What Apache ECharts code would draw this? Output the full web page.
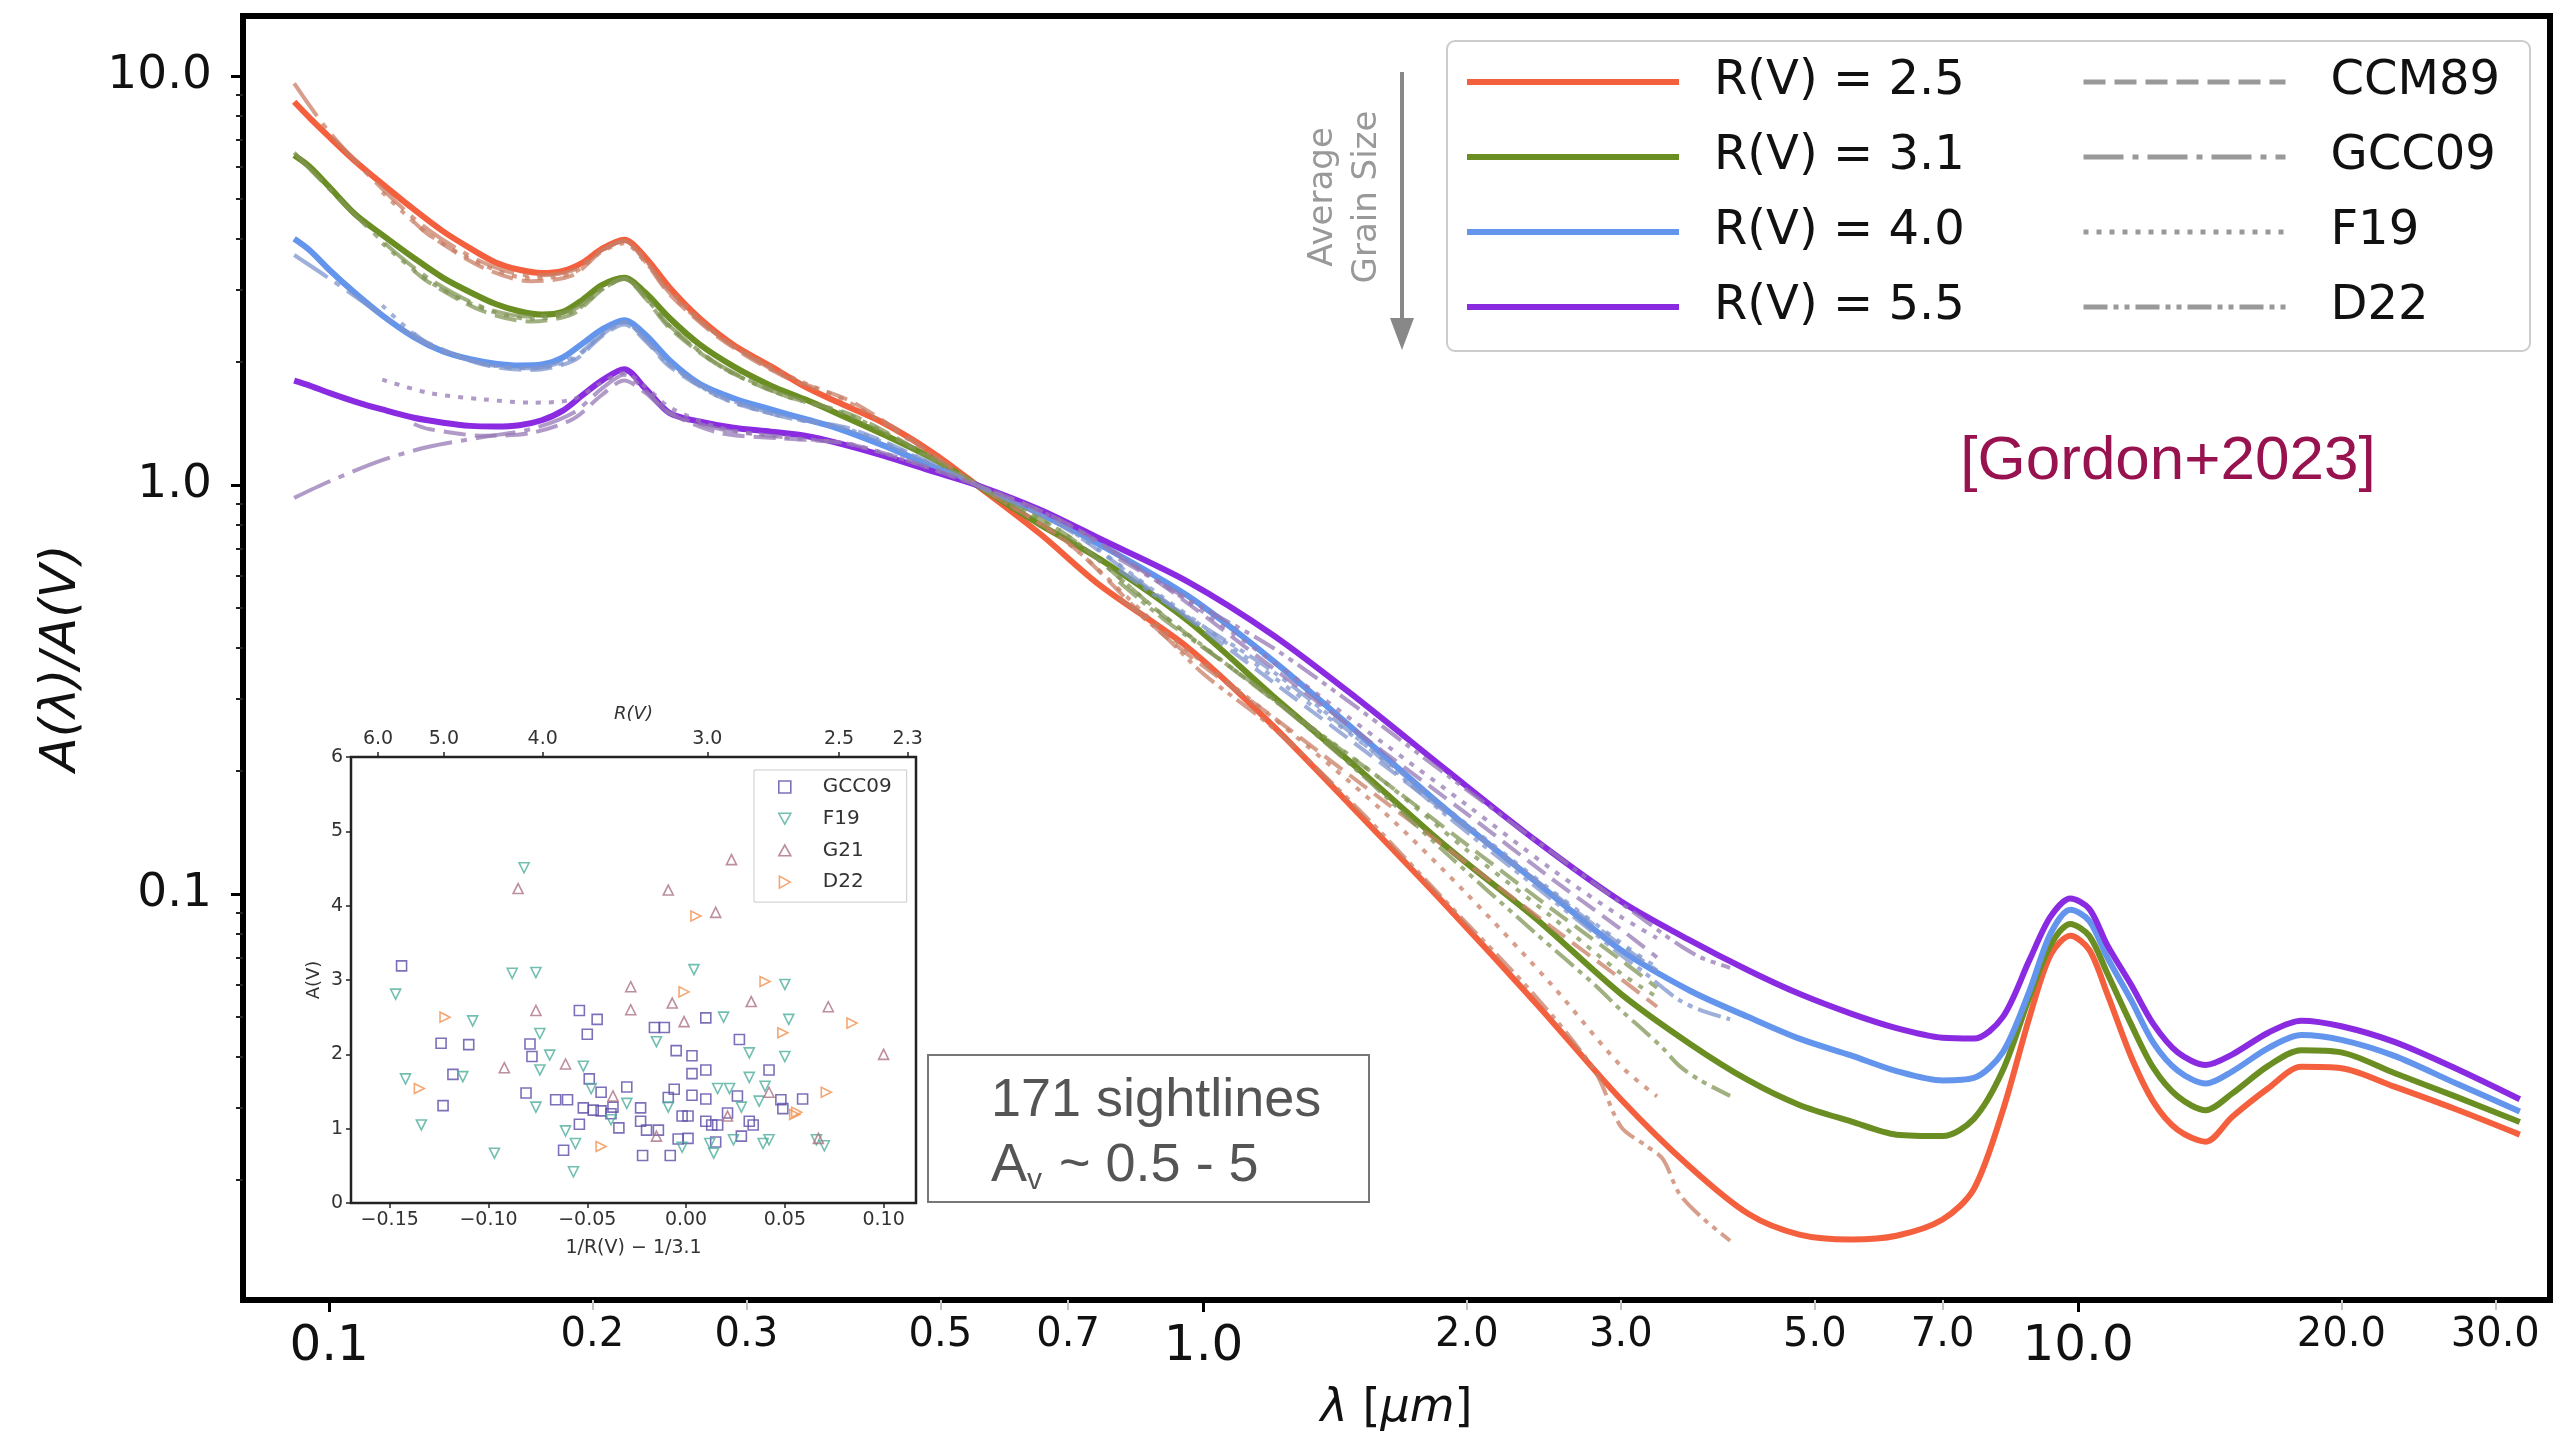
<!DOCTYPE html>
<html><head><meta charset="utf-8">
<script src="https://cdn.jsdelivr.net/npm/echarts@6/dist/echarts.min.js"></script>
<style>html,body{margin:0;padding:0;background:#fff}#c{width:2561px;height:1441px}</style>
</head><body><div id="c"></div>
<script>
// ---------------- data: G23 curves ----------------
const wavelength = [0.0912,0.095,0.1,0.107,0.115,0.125,0.135,0.145,0.155,0.165,0.175,0.185,0.195,0.205,0.2175,0.23,0.245,0.265,0.29,0.32,0.35,0.38,0.43,0.49,0.55,0.65,0.76,0.96,1.2,1.5,1.9,2.4,3.0,3.6,4.2,4.8,5.5,6.2,7.0,7.6,8.2,8.8,9.3,9.8,10.3,10.8,11.5,12.2,13.0,14.0,15.0,16.5,18.0,20.0,23.0,27.0,32.0];
const rv25 = [8.65,7.9,7.1,6.2,5.45,4.72,4.17,3.79,3.50,3.36,3.30,3.34,3.50,3.78,3.98,3.60,3.04,2.56,2.20,1.95,1.74,1.60,1.42,1.20,1.00,0.76,0.57,0.40,0.258,0.158,0.093,0.054,0.0315,0.0215,0.0165,0.0147,0.0143,0.0146,0.0160,0.0190,0.0295,0.050,0.071,0.079,0.073,0.057,0.040,0.031,0.0265,0.0248,0.0285,0.0335,0.0378,0.0375,0.0338,0.0298,0.0258];
const rv31 = [6.4,6.0,5.36,4.6,4.09,3.59,3.21,2.96,2.77,2.66,2.61,2.65,2.84,3.08,3.21,2.95,2.56,2.21,1.95,1.75,1.62,1.50,1.33,1.16,1.00,0.80,0.66,0.465,0.305,0.203,0.13,0.087,0.057,0.043,0.035,0.0305,0.0278,0.0258,0.0256,0.0282,0.037,0.056,0.075,0.0845,0.079,0.064,0.048,0.0375,0.032,0.0296,0.0325,0.038,0.0415,0.041,0.0365,0.032,0.0277];
const rv40 = [4.0,3.75,3.36,2.95,2.60,2.30,2.12,2.03,1.98,1.96,1.97,2.05,2.22,2.40,2.53,2.33,2.02,1.77,1.63,1.53,1.45,1.38,1.25,1.11,1.00,0.85,0.716,0.535,0.372,0.248,0.16,0.107,0.073,0.058,0.05,0.0443,0.0403,0.0369,0.0350,0.0355,0.041,0.058,0.080,0.0915,0.086,0.070,0.055,0.0432,0.037,0.0344,0.0368,0.042,0.0452,0.044,0.0402,0.0345,0.0294];
const rv55 = [1.80,1.75,1.68,1.60,1.53,1.46,1.42,1.395,1.39,1.40,1.44,1.52,1.66,1.80,1.92,1.72,1.50,1.43,1.38,1.35,1.32,1.27,1.18,1.08,1.00,0.87,0.74,0.58,0.43,0.30,0.20,0.135,0.096,0.077,0.065,0.057,0.051,0.047,0.0445,0.0443,0.050,0.069,0.088,0.0975,0.092,0.075,0.060,0.048,0.041,0.0382,0.0405,0.0458,0.049,0.0475,0.0435,0.0375,0.0315];

// ---------------- data: literature models ----------------
const ccmWave = [0.125,0.13,0.15,0.17,0.19,0.205,0.2175,0.23,0.245,0.28,0.33,0.4,0.55,0.7,0.9,1.2,1.6,2.0,2.5,3.0,3.3];
const ccm25 = [4.40,4.09,3.40,3.15,3.26,3.73,3.95,3.51,2.93,2.28,1.85,1.58,1.0,0.722,0.430,0.271,0.170,0.119,0.083,0.062,0.053];
const ccm31 = [3.34,3.13,2.66,2.51,2.62,3.00,3.19,2.86,2.42,1.95,1.66,1.47,1.0,0.750,0.479,0.299,0.190,0.132,0.092,0.069,0.059];
const ccm40 = [2.35,2.22,1.97,1.91,2.01,2.31,2.47,2.25,1.95,1.64,1.47,1.36,1.0,0.777,0.524,0.330,0.208,0.145,0.101,0.075,0.065];
const ccm55 = [1.41,1.37,1.32,1.34,1.45,1.66,1.80,1.68,1.50,1.34,1.30,1.25,1.0,0.802,0.567,0.357,0.224,0.157,0.109,0.082,0.070];

const gccWave = [0.0912,0.1,0.115,0.13,0.15,0.17,0.19,0.205,0.2175,0.23,0.245,0.28,0.33];
const gcc25 = [9.6,7.3,5.3,4.2,3.5,3.25,3.35,3.75,3.95,3.55,2.95,2.3,1.85];
const gcc31 = [6.5,5.3,3.95,3.2,2.72,2.58,2.68,3.02,3.2,2.88,2.45,1.96,1.66];
const gcc40 = [3.65,3.2,2.6,2.2,1.98,1.93,2.05,2.33,2.5,2.27,1.97,1.65,1.47];
const gcc55 = [0.93,1.02,1.15,1.24,1.31,1.37,1.50,1.72,1.86,1.70,1.50,1.37,1.31];

const f19Wave = [0.115,0.13,0.15,0.17,0.19,0.205,0.2175,0.23,0.245,0.28,0.33,0.4,0.55,0.7,0.9,1.2,1.6,2.0,2.5,3.0,3.3];
const f1925 = [5.2,4.1,3.45,3.2,3.3,3.72,3.9,3.5,3.0,2.3,1.88,1.56,1.0,0.72,0.44,0.27,0.16,0.10,0.06,0.038,0.032];
const f1931 = [3.9,3.15,2.7,2.55,2.65,3.0,3.2,2.88,2.45,1.95,1.66,1.46,1.0,0.75,0.48,0.30,0.19,0.128,0.088,0.064,0.056];
const f1940 = [2.75,2.2,1.98,1.93,2.03,2.33,2.5,2.27,1.97,1.64,1.47,1.35,1.0,0.78,0.53,0.34,0.215,0.148,0.102,0.076,0.066];
const f1955 = [1.81,1.68,1.62,1.59,1.62,1.78,1.88,1.74,1.55,1.38,1.31,1.25,1.0,0.80,0.57,0.37,0.235,0.165,0.115,0.088,0.078];

const d22Wave = [0.8,0.9,1.0,1.2,1.5,1.9,2.4,2.8,3.0,3.2,3.35,3.5,3.7,4.0];
const d2225 = [0.53,0.43,0.345,0.255,0.162,0.095,0.056,0.037,0.027,0.0243,0.0225,0.0185,0.0163,0.0142];
const d2231 = [0.58,0.47,0.40,0.30,0.20,0.125,0.080,0.060,0.052,0.046,0.042,0.038,0.035,0.0321];
const d2240 = [0.62,0.52,0.45,0.35,0.24,0.155,0.104,0.080,0.071,0.064,0.059,0.055,0.052,0.0494];
const d2255 = [0.66,0.57,0.50,0.40,0.285,0.195,0.135,0.106,0.095,0.086,0.080,0.075,0.070,0.066];

// ---------------- data: inset scatter [1/R(V)-1/3.1, A(V)] ----------------
const insetGCC09 = [[-0.144,3.19],[-0.124,2.15],[-0.110,2.13],[-0.118,1.73],[-0.123,1.31],[-0.081,1.48],[-0.079,2.14],[-0.078,1.97],[-0.054,2.59],[-0.045,2.47],[-0.050,2.27],[-0.066,1.39],[-0.060,1.39],[-0.049,1.67],[-0.043,1.49],[-0.052,1.28],[-0.047,1.25],[-0.043,1.24],[-0.038,1.20],[-0.037,1.29],[-0.034,1.01],[-0.054,1.06],[-0.062,0.71],[-0.030,1.56],[-0.023,1.28],[-0.023,1.10],[-0.020,0.98],[-0.014,0.98],[-0.022,0.64],[-0.016,2.36],[-0.011,2.36],[-0.005,2.05],[0.003,1.98],[0.003,1.74],[0.010,1.79],[0.010,2.49],[-0.006,1.53],[-0.009,1.42],[-0.008,0.64],[-0.004,0.86],[-0.002,1.17],[0.001,1.17],[0.003,1.45],[0.010,1.40],[0.010,1.10],[0.013,1.05],[0.015,0.82],[0.016,1.05],[0.021,1.21],[0.026,1.44],[0.027,2.20],[0.028,0.90],[0.032,1.10],[0.034,1.05],[0.042,1.79],[0.048,1.39],[0.049,1.27],[0.059,1.40],[0.001,0.87]];
const insetF19 = [[-0.147,2.81],[-0.142,1.67],[-0.134,1.05],[-0.108,2.45],[-0.113,1.70],[-0.097,0.67],[-0.088,3.09],[-0.076,3.10],[-0.082,4.51],[-0.074,2.28],[-0.074,1.79],[-0.076,1.29],[-0.069,1.99],[-0.052,1.84],[-0.061,0.97],[-0.056,0.80],[-0.057,0.42],[-0.030,1.34],[-0.015,2.17],[0.004,3.14],[0.019,2.50],[0.032,2.02],[0.032,1.69],[0.039,0.80],[0.042,0.85],[0.050,2.94],[0.052,2.47],[0.050,1.97],[0.040,1.57],[0.066,0.85],[0.070,0.77],[0.016,1.54],[0.022,1.54],[0.012,0.80],[0.014,0.67],[-0.002,0.75],[0.024,0.85],[0.037,1.37],[0.028,1.29],[-0.009,1.29],[-0.038,1.12],[-0.048,1.54]];
const insetG21 = [[-0.085,4.23],[-0.076,2.59],[-0.092,1.82],[-0.061,1.87],[-0.028,2.91],[-0.028,2.60],[-0.009,4.21],[0.023,4.62],[-0.007,2.69],[-0.001,2.44],[0.033,2.71],[0.072,2.64],[0.100,2.00],[0.015,3.91],[0.021,1.17],[0.042,1.49],[0.067,0.87],[-0.037,1.44],[-0.015,0.90]];
const insetD22 = [[-0.122,2.50],[-0.135,1.54],[-0.043,0.76],[0.005,3.86],[-0.001,2.84],[0.040,2.98],[0.049,2.29],[0.084,2.42],[0.071,1.49],[0.056,1.22],[0.055,1.19]];

// ---------------- ticks / labels ----------------
const xRange = [0.0797, 34.65];
const yRange = [0.01017, 14.02];
const xMajorTicks = [0.1, 1, 10];
const xMajorLabels = ['0.1', '1.0', '10.0'];
const xMinorTicks = [0.2, 0.3, 0.5, 0.7, 2, 3, 5, 7, 20, 30];
const xMinorLabels = ['0.2', '0.3', '0.5', '0.7', '2.0', '3.0', '5.0', '7.0', '20.0', '30.0'];
const yMajorTicks = [0.1, 1, 10];
const yMajorLabels = ['0.1', '1.0', '10.0'];
const yMinorTicks = [0.02,0.03,0.04,0.05,0.06,0.07,0.08,0.09,0.2,0.3,0.4,0.5,0.6,0.7,0.8,0.9,2,3,4,5,6,7,8,9];
const insetXRange = [-0.1696, 0.1164];
const insetXTicks = [-0.15, -0.10, -0.05, 0, 0.05, 0.10];
const insetXLabels = ['\u22120.15', '\u22120.10', '\u22120.05', '0.00', '0.05', '0.10'];
const insetRV = [6.0, 5.0, 4.0, 3.0, 2.5, 2.3];
const insetRVLabels = ['6.0', '5.0', '4.0', '3.0', '2.5', '2.3'];

// ---------------- helpers ----------------
const F = '"DejaVu Sans", sans-serif';
const lg = v => Math.log10(v);
function nearestLabel(pos, labels) {
  return function (v) {
    let bi = 0, bd = Infinity;
    pos.forEach((p, i) => { const d = Math.abs(p - v); if (d < bd) { bd = d; bi = i; } });
    return labels[bi];
  };
}
const pairs = (xs, ys) => xs.map((x, i) => [x, ys[i]]);

const rvDefs = [
  { name: 'R(V) = 2.5', vals: rv25, color: '#f4603e', tint: 'rgba(200,125,100,0.75)', ccm: ccm25, gcc: gcc25, f19: f1925, d22: d2225 },
  { name: 'R(V) = 3.1', vals: rv31, color: '#6b8e23', tint: 'rgba(130,150,85,0.75)', ccm: ccm31, gcc: gcc31, f19: f1931, d22: d2231 },
  { name: 'R(V) = 4.0', vals: rv40, color: '#6495ed', tint: 'rgba(125,150,205,0.75)', ccm: ccm40, gcc: gcc40, f19: f1940, d22: d2240 },
  { name: 'R(V) = 5.5', vals: rv55, color: '#8a2be2', tint: 'rgba(150,120,180,0.75)', ccm: ccm55, gcc: gcc55, f19: f1955, d22: d2255 }
];
const modelDefs = [
  { name: 'CCM89', key: 'ccm', wave: ccmWave, dash: [22, 9] },
  { name: 'GCC09', key: 'gcc', wave: gccWave, dash: [40, 9, 6, 9] },
  { name: 'F19', key: 'f19', wave: f19Wave, dash: [5, 8] },
  { name: 'D22', key: 'd22', wave: d22Wave, dash: [24, 6, 5, 6, 5, 6] }
];

const series = [];
rvDefs.forEach(r => {
  series.push({
    type: 'line', name: r.name, xAxisIndex: 0, yAxisIndex: 0,
    data: pairs(wavelength, r.vals), symbol: 'none', smooth: 0.3,
    color: r.color, lineStyle: { width: 6, color: r.color }, z: 3, silent: true
  });
});
rvDefs.forEach(r => {
  modelDefs.forEach(m => {
    series.push({
      type: 'line', name: m.name + ' ' + r.name, xAxisIndex: 0, yAxisIndex: 0,
      data: pairs(m.wave, r[m.key]), symbol: 'none', smooth: 0.3,
      color: r.tint, lineStyle: { width: 4, color: r.tint, type: m.dash }, z: 4, silent: true
    });
  });
});
modelDefs.forEach(m => {
  series.push({
    type: 'line', name: m.name, xAxisIndex: 0, yAxisIndex: 0, data: [], symbol: 'none',
    color: '#999', lineStyle: { width: 5, color: '#999', type: m.dash }
  });
});
const insetDefs = [
  { name: 'GCC09 (inset)', data: insetGCC09, symbol: 'rect', rot: 0, icon: 'rect', color: '#5b4ea8' },
  { name: 'F19 (inset)', data: insetF19, symbol: 'triangle', rot: 180, icon: 'path://M0,0L10,0L5,9Z', color: '#4fae9e' },
  { name: 'G21 (inset)', data: insetG21, symbol: 'triangle', rot: 0, icon: 'path://M5,0L10,9L0,9Z', color: '#ad7282' },
  { name: 'D22 (inset)', data: insetD22, symbol: 'triangle', rot: -90, icon: 'path://M0,0L9,5L0,10Z', color: '#f0914f' }
];
insetDefs.forEach(d => {
  series.push({
    type: 'scatter', name: d.name, xAxisIndex: 3, yAxisIndex: 3, data: d.data,
    symbol: d.symbol, symbolRotate: d.rot, symbolSize: 10, color: d.color,
    itemStyle: { color: 'rgba(255,255,255,0)', borderColor: d.color, borderWidth: 1.6 }, z: 6, silent: true
  });
});

const xMajPos = xMajorTicks.map(lg), xMinPos = xMinorTicks.map(lg);
const yMajPos = yMajorTicks.map(lg), yMinPos = yMinorTicks.map(lg);
const rvPos = insetRV.map(r => 1 / r - 1 / 3.1);

const hidden = { axisLine: { show: false, onZero: false }, axisTick: { show: false }, axisLabel: { show: false }, splitLine: { show: false } };

const option = {
  animation: false,
  backgroundColor: '#ffffff',
  grid: [
    { left: 243, top: 16, right: 11, bottom: 141, show: true, borderColor: '#000', borderWidth: 6, backgroundColor: 'rgba(0,0,0,0)', containLabel: false, outerBoundsMode: 'none' },
    { left: 351, top: 757, width: 565, height: 446, show: true, borderColor: '#222', borderWidth: 2.5, backgroundColor: '#fff', containLabel: false, outerBoundsMode: 'none' }
  ],
  xAxis: [
    Object.assign({ type: 'log', logBase: 10, gridIndex: 0, min: xRange[0], max: xRange[1], position: 'bottom' }, hidden),
    {
      type: 'value', gridIndex: 0, position: 'bottom', min: lg(xRange[0]), max: lg(xRange[1]),
      axisLine: { show: false, onZero: false }, splitLine: { show: false },
      axisTick: { show: true, customValues: xMajPos, length: 12, lineStyle: { color: '#000', width: 3 } },
      axisLabel: { customValues: xMajPos, formatter: nearestLabel(xMajPos, xMajorLabels), fontSize: 50, fontFamily: F, color: '#111', margin: 22 },
      name: '{i|\u03bb} [{i|\u03bcm}]', nameLocation: 'middle', nameGap: 86,
      nameTextStyle: { fontSize: 46, fontFamily: F, color: '#111', rich: { i: { fontSize: 46, fontFamily: F, fontStyle: 'italic', color: '#111' } } }
    },
    {
      type: 'value', gridIndex: 0, position: 'bottom', min: lg(xRange[0]), max: lg(xRange[1]),
      axisLine: { show: false, onZero: false }, splitLine: { show: false },
      axisTick: { show: true, customValues: xMinPos, length: 10, lineStyle: { color: '#c4c4c4', width: 2 } },
      axisLabel: { customValues: xMinPos, formatter: nearestLabel(xMinPos, xMinorLabels), fontSize: 40, fontFamily: F, color: '#111', margin: 16 }
    },
    {
      type: 'value', gridIndex: 1, position: 'bottom', min: insetXRange[0], max: insetXRange[1],
      axisLine: { show: false, onZero: false }, splitLine: { show: false },
      axisTick: { show: true, customValues: insetXTicks, length: 5, lineStyle: { color: '#222', width: 1.5 } },
      axisLabel: { customValues: insetXTicks, formatter: nearestLabel(insetXTicks, insetXLabels), fontSize: 19, fontFamily: F, color: '#333', margin: 8 },
      name: '1/R(V) \u2212 1/3.1', nameLocation: 'middle', nameGap: 36,
      nameTextStyle: { fontSize: 19, fontFamily: F, color: '#333' }
    },
    {
      type: 'value', gridIndex: 1, position: 'top', min: insetXRange[0], max: insetXRange[1],
      axisLine: { show: false, onZero: false }, splitLine: { show: false },
      axisTick: { show: true, customValues: rvPos, length: 5, lineStyle: { color: '#222', width: 1.5 } },
      axisLabel: { customValues: rvPos, formatter: nearestLabel(rvPos, insetRVLabels), fontSize: 19, fontFamily: F, color: '#333', margin: 8 },
      name: 'R(V)', nameLocation: 'middle', nameGap: 34,
      nameTextStyle: { fontSize: 18, fontFamily: F, fontStyle: 'italic', color: '#333' }
    }
  ],
  yAxis: [
    Object.assign({ type: 'log', logBase: 10, gridIndex: 0, min: yRange[0], max: yRange[1], position: 'left' }, hidden),
    {
      type: 'value', gridIndex: 0, position: 'left', min: lg(yRange[0]), max: lg(yRange[1]),
      axisLine: { show: false, onZero: false }, splitLine: { show: false },
      axisTick: { show: true, customValues: yMajPos, length: 12, lineStyle: { color: '#000', width: 3 } },
      axisLabel: { customValues: yMajPos, formatter: nearestLabel(yMajPos, yMajorLabels), fontSize: 47, fontFamily: F, color: '#111', margin: 31 },
      name: 'A(\u03bb)/A(V)', nameLocation: 'middle', nameRotate: 90, nameGap: 156,
      nameTextStyle: { fontSize: 50, fontFamily: F, fontStyle: 'italic', color: '#111' }
    },
    {
      type: 'value', gridIndex: 0, position: 'left', min: lg(yRange[0]), max: lg(yRange[1]),
      axisLine: { show: false, onZero: false }, splitLine: { show: false },
      axisTick: { show: true, customValues: yMinPos, length: 7, lineStyle: { color: '#222', width: 2 } },
      axisLabel: { show: false }
    },
    {
      type: 'value', gridIndex: 1, position: 'left', min: 0, max: 6, interval: 1,
      axisLine: { show: false, onZero: false }, splitLine: { show: false },
      axisTick: { show: true, length: 5, lineStyle: { color: '#222', width: 1.5 } },
      axisLabel: { fontSize: 19, fontFamily: F, color: '#333', margin: 8 },
      name: 'A(V)', nameLocation: 'middle', nameRotate: 90, nameGap: 28,
      nameTextStyle: { fontSize: 18, fontFamily: F, color: '#333' }
    }
  ],
  legend: [
    {
      data: rvDefs.map(r => r.name), orient: 'vertical', left: 1464, top: 58, padding: 0,
      itemWidth: 212, itemHeight: 14, itemGap: 27, selectedMode: false, z: 8,
      lineStyle: { width: 6 }, itemStyle: { opacity: 0, borderWidth: 0 },
      textStyle: { fontSize: 48, lineHeight: 48, fontFamily: F, color: '#111', padding: [0, 0, 0, 30] }
    },
    {
      data: modelDefs.map(m => m.name), orient: 'vertical', left: 2081, top: 58, padding: 0,
      itemWidth: 202, itemHeight: 14, itemGap: 27, selectedMode: false, z: 8,
      lineStyle: { width: 5 }, itemStyle: { opacity: 0, borderWidth: 0 },
      textStyle: { fontSize: 48, lineHeight: 48, fontFamily: F, color: '#111', padding: [0, 0, 0, 40] }
    },
    {
      data: insetDefs.map(d => ({ name: d.name, icon: d.icon })),
      orient: 'vertical', left: 754, top: 770,
      padding: [6, 15, 9, 24], itemWidth: 12, itemHeight: 12, itemGap: 9.7, selectedMode: false, z: 8,
      backgroundColor: '#fff', borderColor: '#cccccc', borderWidth: 1,
      formatter: n => n.replace(' (inset)', ''),
      itemStyle: { borderWidth: 1.6 },
      textStyle: { fontSize: 20, lineHeight: 22, fontFamily: F, color: '#333', padding: [0, 0, 0, 27] }
    }
  ],
  graphic: {
    elements: [
      { type: 'rect', z: 5, shape: { x: 1447, y: 41, width: 1083, height: 310, r: 8 }, style: { fill: '#ffffff', stroke: '#cccccc', lineWidth: 2 } },
      { type: 'line', z: 6, shape: { x1: 1402, y1: 72, x2: 1402, y2: 322 }, style: { stroke: '#888', lineWidth: 4 } },
      { type: 'polygon', z: 6, shape: { points: [[1390, 318], [1414, 318], [1402, 350]] }, style: { fill: '#888' } },
      { type: 'text', z: 6, x: 1345, y: 197, rotation: Math.PI / 2,
        style: { text: 'Average\nGrain Size', font: '34px "DejaVu Sans"', fill: '#999', align: 'center', verticalAlign: 'middle', textAlign: 'center', textVerticalAlign: 'middle', lineHeight: 44 } },
      { type: 'text', z: 6, x: 2168, y: 462,
        style: { text: '[Gordon+2023]', font: '62px "Liberation Sans"', fill: '#98124f', align: 'center', verticalAlign: 'middle', textAlign: 'center', textVerticalAlign: 'middle' } },
      { type: 'rect', z: 5, shape: { x: 928, y: 1055, width: 441, height: 147 }, style: { fill: '#ffffff', stroke: '#777', lineWidth: 2 } },
      { type: 'text', z: 6, x: 991, y: 1101,
        style: { text: '171 sightlines', font: '54px "Liberation Sans"', fill: '#555', align: 'left', verticalAlign: 'middle', textAlign: 'left', textVerticalAlign: 'middle' } },
      { type: 'text', z: 6, x: 991, y: 1166,
        style: { text: '{a|A}{s|v}{a| ~ 0.5 - 5}', align: 'left', verticalAlign: 'middle', textAlign: 'left', textVerticalAlign: 'middle',
          rich: { a: { fontSize: 54, fontFamily: 'Liberation Sans', fill: '#555', lineHeight: 60 },
                  s: { fontSize: 30, fontFamily: 'Liberation Sans', fill: '#555', verticalAlign: 'bottom', lineHeight: 60, padding: [0, 2, 0, 0] } } } }
    ]
  },
  series: series
};

const chart = echarts.init(document.getElementById('c'), null, { renderer: 'canvas', width: 2561, height: 1441 });
chart.setOption(option);
</script>
</body></html>
